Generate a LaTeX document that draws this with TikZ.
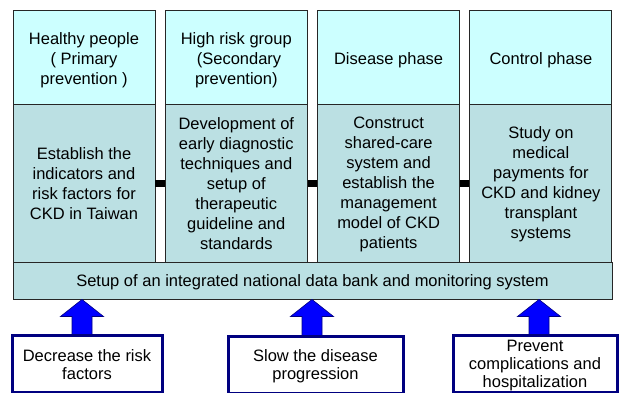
\documentclass[tikz,border=0pt]{standalone}
\usepackage{fontspec}
\setmainfont{Liberation Sans}
\usetikzlibrary{calc}
\definecolor{hdr}{HTML}{CCFFFF}
\definecolor{bdy}{HTML}{BBE0E3}
\definecolor{navyc}{HTML}{000080}
\definecolor{arrblue}{HTML}{0000FF}
\begin{document}
\begin{tikzpicture}[x=1pt,y=-1pt,
  txt/.style={font=\fontsize{16.5}{20}\selectfont, align=center, inner sep=0pt},
  gtxt/.style={font=\fontsize{16.5}{18}\selectfont, align=center, inner sep=0pt},
  cell/.style={draw=black!85, line width=0.9pt, inner sep=0pt},
  hdrcell/.style={cell, fill=hdr, minimum width=142pt, minimum height=94pt},
  bodycell/.style={cell, fill=bdy, minimum width=142pt, minimum height=158pt},
  barcell/.style={cell, fill=bdy, minimum width=599pt, minimum height=37pt},
  goalbox/.style={draw=navyc, fill=white, line width=3pt, minimum height=57pt, inner sep=0pt},
  fatarrow/.style={fill=arrblue, draw=navyc, line width=0.6pt, line join=miter},
  link/.style={draw=black, line width=7pt}]
\useasboundingbox (0,0) rectangle (621,392);
% headers
\node[hdrcell] (h1) at (84,57) {};
\node[hdrcell] (h2) at (236.3,57) {};
\node[hdrcell] (h3) at (388.6,57) {};
\node[hdrcell] (h4) at (540.9,57) {};
\node[txt] (h1t) at ($(h1)+(0,3)$) {Healthy people\\( Primary\\prevention )};
\node[txt] (h2t) at ($(h2)+(0,3)$) {High risk group\\\,\,(Secondary\\prevention)};
\node[txt] (h3t) at ($(h3)+(0,3)$) {Disease phase};
\node[txt] (h4t) at ($(h4)+(0,3)$) {Control phase};
% bodies
\node[bodycell] (b1) at (84,183) {};
\node[bodycell] (b2) at (236.3,183) {};
\node[bodycell] (b3) at (388.6,183) {};
\node[bodycell] (b4) at (540.9,183) {};
\node[txt] (b1t) at ($(b1)+(0,1)$) {Establish the\\indicators and\\risk factors for\\CKD in Taiwan};
\node[txt] (b2t) at ($(b2)+(0,1)$) {Development of\\early diagnostic\\techniques and\\setup of\\therapeutic\\guideline and\\standards};
\node[txt] (b3t) at ($(b3)+(0,1)$) {Construct\\shared-care\\system and\\establish the\\management\\model of CKD\\patients};
\node[txt] (b4t) at ($(b4)+(0,1)$) {Study on\\medical\\payments for\\CKD and kidney\\transplant\\systems};
% links
\draw[link] (b1.east) -- (b2.west);
\draw[link] (b2.east) -- (b3.west);
\draw[link] (b3.east) -- (b4.west);
% bar
\node[barcell] (bar) at (312.5,280.5) {};
\node[txt] (bart) at ($(bar)+(0,2)$) {Setup of an integrated national data bank and monitoring system};
% arrows
\foreach \i/\ax/\gy in {1/82/335,2/312/337,3/539/335}{
  \coordinate (t\i) at (bar.south -| \ax,0);
  \coordinate (s\i) at (\ax,\gy);
  \filldraw[fatarrow] ($(s\i)+(-10,0)$) -- ($(t\i)+(-10,17)$) -- ($(t\i)+(-21.5,17)$) -- (t\i)
     -- ($(t\i)+(21.5,17)$) -- ($(t\i)+(10,17)$) -- ($(s\i)+(10,0)$) -- cycle;
}
% goal boxes
\node[goalbox, minimum width=150pt] (d1) at (87,363.5) {};
\node[goalbox, minimum width=175pt] (d2) at (315.5,365) {};
\node[goalbox, minimum width=164pt] (d3) at (535,363.5) {};
\node[gtxt] (d1t) at ($(d1)+(0,1)$) {Decrease the risk\\factors};
\node[gtxt] (d2t) at ($(d2)+(0,1)$) {Slow the disease\\progression};
\node[gtxt] (d3t) at ($(d3)+(0,2.5)$) {Prevent\\complications and\\hospitalization};
\end{tikzpicture}
\end{document}
